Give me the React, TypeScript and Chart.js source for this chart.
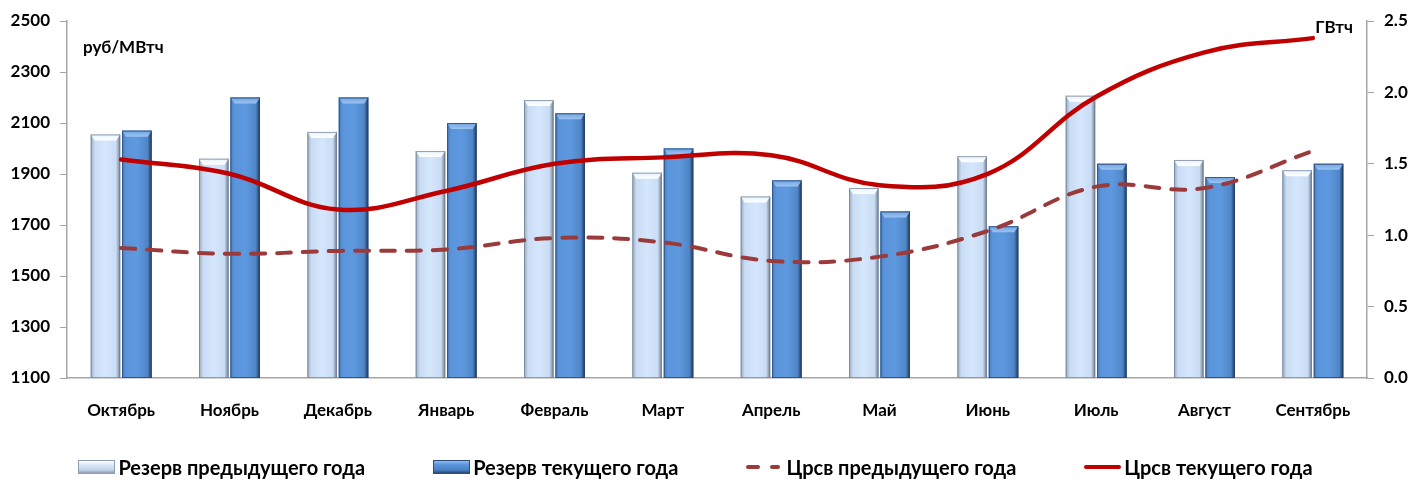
import React, { useEffect, useRef } from 'react';
import { Chart, registerables } from 'chart.js';

Chart.register(...registerables);

const months = ['Октябрь', 'Ноябрь', 'Декабрь', 'Январь', 'Февраль', 'Март', 'Апрель', 'Май', 'Июнь', 'Июль', 'Август', 'Сентябрь'];
const reservePrev = [2055, 1960, 2065, 1990, 2190, 1905, 1812, 1845, 1970, 2207, 1955, 1915];
const reserveCurr = [2070, 2200, 2200, 2100, 2138, 2000, 1875, 1753, 1695, 1940, 1888, 1940];
const crsvPrev = [0.91, 0.87, 0.89, 0.9, 0.98, 0.95, 0.82, 0.85, 1.03, 1.34, 1.33, 1.59];
const crsvCurr = [1.53, 1.43, 1.18, 1.31, 1.5, 1.545, 1.56, 1.35, 1.43, 1.97, 2.28, 2.38];
const seriesNames = ['Резерв предыдущего года', 'Резерв текущего года', 'Црсв предыдущего года', 'Црсв текущего года'];
const leftUnit = 'руб/МВтч';
const rightUnit = 'ГВтч';

const FONT = 'Lato, "DejaVu Sans", sans-serif';
const AXIS_GREY = '#a6a6a6';
const PREV_COLOR = '#d5e7fd';
const CURR_COLOR = '#5b96dc';
const DASH_COLOR = '#9b3a3a';
const SOLID_COLOR = '#c00000';

const bevelPlugin = {
  id: 'bevel',
  afterDatasetDraw(chart: any, args: any) {
    const meta = args.meta;
    if (meta.type !== 'bar') return;
    const ctx = chart.ctx;
    const area = chart.chartArea;
    const isPrev = args.index === 0;
    ctx.save();
    ctx.beginPath();
    ctx.rect(area.left, area.top, area.right - area.left, area.bottom - area.top);
    ctx.clip();
    meta.data.forEach((el: any) => {
      const { x, y, base, width } = el.getProps(['x', 'y', 'base', 'width'], true);
      const l = x - width / 2;
      const r = x + width / 2;
      const t = Math.min(y, base);
      const b = Math.min(Math.max(y, base), area.bottom);
      const e = 4;
      const g = ctx.createLinearGradient(l, 0, r, 0);
      if (isPrev) {
        g.addColorStop(0, '#9aaabf');
        g.addColorStop(0.14, '#c9dcf3');
        g.addColorStop(0.5, '#d5e7fd');
        g.addColorStop(0.86, '#c9dcf3');
        g.addColorStop(1, '#6f7c8e');
      } else {
        g.addColorStop(0, '#4c7fbf');
        g.addColorStop(0.14, '#5a95dc');
        g.addColorStop(0.5, '#5e99df');
        g.addColorStop(0.86, '#4f86c8');
        g.addColorStop(1, '#1f3557');
      }
      ctx.fillStyle = g;
      ctx.fillRect(l, t, width, b - t);
      ctx.beginPath();
      ctx.moveTo(l, t);
      ctx.lineTo(r, t);
      ctx.lineTo(r - e, t + e + 2);
      ctx.lineTo(l + e, t + e + 2);
      ctx.closePath();
      const tg = ctx.createLinearGradient(0, t, 0, t + e + 2);
      if (isPrev) {
        tg.addColorStop(0, '#e9f2fd');
        tg.addColorStop(1, '#ffffff');
      } else {
        tg.addColorStop(0, '#6fa3e3');
        tg.addColorStop(1, '#9cc3f0');
      }
      ctx.fillStyle = tg;
      ctx.fill();
      ctx.strokeStyle = isPrev ? 'rgba(110,125,145,0.7)' : 'rgba(40,70,115,0.8)';
      ctx.lineWidth = 1;
      ctx.strokeRect(l + 0.5, t + 0.5, width - 1, b - t - 1);
    });
    ctx.restore();
  },
};

const unitPlugin = {
  id: 'units',
  afterDraw(chart: any) {
    const { ctx, chartArea } = chart;
    ctx.save();
    ctx.fillStyle = '#000';
    ctx.font = `bold 17px ${FONT}`;
    ctx.textBaseline = 'middle';
    ctx.textAlign = 'left';
    ctx.fillText(leftUnit, chartArea.left + 16, chartArea.top + 27);
    ctx.textAlign = 'right';
    ctx.fillText(rightUnit, chartArea.right - 14, chartArea.top + 7);
    ctx.restore();
  },
};

const legendBox = (light: boolean): React.CSSProperties => ({
  width: 37,
  height: 14,
  boxSizing: 'border-box',
  border: light ? '1px solid #8d9cb1' : '1px solid #2d4c7a',
  background: light
    ? 'linear-gradient(to bottom, #ffffff 0%, #dce9fa 30%, #c3d4ea 75%, #8e9db2 100%)'
    : 'linear-gradient(to bottom, #8fbaf0 0%, #5b96dc 30%, #4a80c4 75%, #2a4a78 100%)',
});

function LegendIcon({ kind }: { kind: number }) {
  if (kind === 0 || kind === 1) return <div style={legendBox(kind === 0)} />;
  if (kind === 2) {
    return (
      <div style={{ width: 37, height: 14, display: 'flex', alignItems: 'center', gap: 10 }}>
        <div style={{ width: 14, height: 4, borderRadius: 2, background: DASH_COLOR }} />
        <div style={{ width: 10, height: 4, borderRadius: 2, background: DASH_COLOR }} />
      </div>
    );
  }
  return (
    <div style={{ width: 37, height: 14, display: 'flex', alignItems: 'center' }}>
      <div style={{ width: 37, height: 4, borderRadius: 2, background: SOLID_COLOR }} />
    </div>
  );
}

export default function App() {
  const ref = useRef<HTMLCanvasElement | null>(null);

  useEffect(() => {
    document.body.style.margin = '0';
    const canvas = ref.current;
    if (!canvas) return;
    const chart = new Chart(canvas, {
      type: 'bar',
      data: {
        labels: months,
        datasets: [
          {
            type: 'bar',
            label: seriesNames[0],
            data: reservePrev,
            backgroundColor: PREV_COLOR,
            borderWidth: 0,
            yAxisID: 'y',
            order: 2,
            categoryPercentage: 0.58,
            barPercentage: 0.94,
          },
          {
            type: 'bar',
            label: seriesNames[1],
            data: reserveCurr,
            backgroundColor: CURR_COLOR,
            borderWidth: 0,
            yAxisID: 'y',
            order: 2,
            categoryPercentage: 0.58,
            barPercentage: 0.94,
          },
          {
            type: 'line',
            label: seriesNames[2],
            data: crsvPrev,
            borderColor: DASH_COLOR,
            backgroundColor: DASH_COLOR,
            borderWidth: 4,
            borderDash: [14, 12],
            borderCapStyle: 'round',
            pointRadius: 0,
            tension: 0.4,
            yAxisID: 'y1',
            order: 0,
          },
          {
            type: 'line',
            label: seriesNames[3],
            data: crsvCurr,
            borderColor: SOLID_COLOR,
            backgroundColor: SOLID_COLOR,
            borderWidth: 4.5,
            borderCapStyle: 'round',
            pointRadius: 0,
            tension: 0.4,
            yAxisID: 'y1',
            order: 0,
          },
        ] as any,
      },
      options: {
        animation: false,
        responsive: false,
        maintainAspectRatio: false,
        layout: { padding: { top: 21, left: 0, right: 0, bottom: 0 } },
        plugins: {
          tooltip: { enabled: false },
          legend: { display: false },
        },
        scales: {
          x: {
            grid: { display: false, drawTicks: false },
            border: { display: true, color: AXIS_GREY, width: 1.5 },
            ticks: { font: { family: FONT, size: 17, weight: 'bold' }, color: '#000', padding: 22, maxRotation: 0 },
            afterFit: (s: any) => { s.height = 102; },
          },
          y: {
            position: 'left',
            min: 1100,
            max: 2500,
            beginAtZero: false,
            grid: { drawOnChartArea: false, drawTicks: true, tickLength: 7, color: AXIS_GREY },
            border: { display: true, color: AXIS_GREY, width: 1.5 },
            ticks: { stepSize: 200, font: { family: FONT, size: 17, weight: 'bold' }, color: '#000', padding: 10, callback: (v: any) => String(v) },
            afterFit: (s: any) => { s.width = 67; },
          },
          y1: {
            position: 'right',
            min: 0,
            max: 2.5,
            grid: { drawOnChartArea: false, drawTicks: true, tickLength: 7, color: AXIS_GREY },
            border: { display: true, color: AXIS_GREY, width: 1.5 },
            ticks: {
              stepSize: 0.5,
              font: { family: FONT, size: 17, weight: 'bold' },
              color: '#000',
              padding: 10,
              callback: (v: any) => Number(v).toFixed(1),
            },
            afterFit: (s: any) => { s.width = 46; },
          },
        },
      } as any,
      plugins: [bevelPlugin, unitPlugin],
    });
    return () => chart.destroy();
  }, []);

  return (
    <div style={{ position: 'relative', width: 1413, height: 480, background: '#fff' }}>
      <canvas ref={ref} width={1413} height={480} style={{ display: 'block' }} />
      <div
        style={{
          position: 'absolute',
          left: 0,
          top: 455,
          width: 1413,
          height: 24,
          boxSizing: 'border-box',
          paddingRight: 22,
          display: 'flex',
          justifyContent: 'center',
          alignItems: 'center',
          gap: 68,
          fontFamily: FONT,
          fontWeight: 'bold',
          fontSize: 20,
          color: '#000',
          whiteSpace: 'nowrap',
        }}
      >
        {seriesNames.map((name, i) => (
          <div key={name} style={{ display: 'flex', alignItems: 'center', gap: 3 }}>
            <LegendIcon kind={i} />
            <span>{name}</span>
          </div>
        ))}
      </div>
    </div>
  );
}
